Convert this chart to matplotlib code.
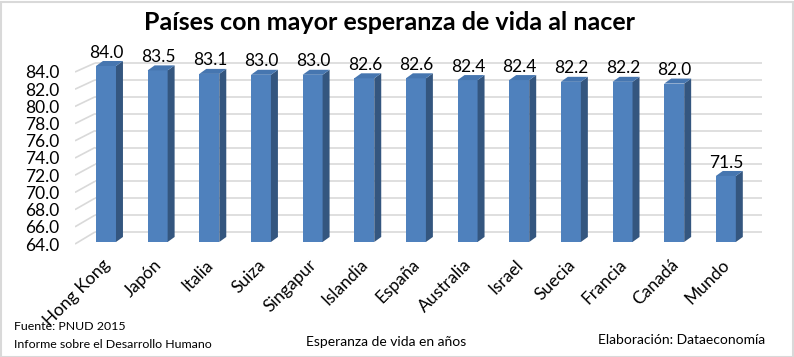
import matplotlib
matplotlib.use("Agg")
import matplotlib.pyplot as plt
from matplotlib.patches import Polygon, Rectangle
import numpy as np

plt.rcParams['font.family'] = ['Lato', 'DejaVu Sans']

categories = ["Hong Kong", "Japón", "Italia", "Suiza", "Singapur", "Islandia",
              "España", "Australia", "Israel", "Suecia", "Francia", "Canadá", "Mundo"]
values = [84.0, 83.5, 83.1, 83.0, 83.0, 82.6, 82.6, 82.4, 82.4, 82.2, 82.2, 82.0, 71.5]
tick_values = [64.0, 66.0, 68.0, 70.0, 72.0, 74.0, 76.0, 78.0, 80.0, 82.0, 84.0]

title = "Países con mayor esperanza de vida al nacer"
xlabel = "Esperanza de vida en años"
source1 = "Fuente: PNUD 2015"
source2 = "Informe sobre el Desarrollo Humano"
credit = "Elaboración: Dataeconomía"

FRONT = "#4F81BD"
SIDE = "#34567F"
TOP = "#4676B0"
GRID = "#D9D9D9"

W, H = 794, 357
fig = plt.figure(figsize=(W / 100, H / 100), dpi=100)
ax = fig.add_axes([75 / W, 1 - 245.5 / H, (762 - 75) / W, (245.5 - 44) / H])
ymin, ymax = 63.6, 86.5
ax.set_xlim(-0.6, 12.70)
ax.set_ylim(ymin, ymax)
for s in ax.spines.values():
    s.set_visible(False)

# perspective helpers (wall is behind the bars, tick labels sit at the front edge)
def front_pos(v):
    return 63.77 + (v - 64) * 0.9775

def wall_pos(v):
    return 65.136 + (v - 64) * 0.960

wall_x0 = -0.213
for v in tick_values:
    ax.plot([-0.6, wall_x0], [front_pos(v), wall_pos(v)], color=GRID, lw=1.2,
            zorder=0, solid_capstyle='butt')
    ax.plot([wall_x0, 12.70], [wall_pos(v), wall_pos(v)], color=GRID, lw=1.2,
            zorder=0, solid_capstyle='butt')

ax.set_yticks([front_pos(v) for v in tick_values])
ax.set_yticklabels([f"{v:.1f}" for v in tick_values], fontsize=12.5)
ax.tick_params(axis='y', length=0, pad=11)

x = np.arange(len(categories))
bw = 0.387
dx, dy = 0.135, 0.57
base = 64.0
ax.bar(x, [v - base for v in values], bottom=base, width=bw, color=FRONT,
       edgecolor="none", zorder=3)
for xi, v in zip(x, values):
    r = xi + bw / 2
    l = xi - bw / 2
    side = Polygon([(r, base), (r + dx, base + dy), (r + dx, v + dy), (r, v)],
                   closed=True, facecolor=SIDE, edgecolor="none", zorder=3)
    top = Polygon([(l, v), (r, v), (r + dx, v + dy), (l + dx, v + dy)],
                  closed=True, facecolor=TOP, edgecolor="none", zorder=3)
    ax.add_patch(side)
    ax.add_patch(top)
    ax.text(xi + 0.01, v + dy + 0.05, f"{v:.1f}", ha='center', va='bottom',
            fontsize=12.5, color="black", zorder=4)

label_shift = 0.08
ax.set_xticks(x - label_shift)
ax.set_xticklabels(categories, rotation=45, ha='right', va='top',
                   rotation_mode='anchor', fontsize=12.5)
ax.tick_params(axis='x', length=0, pad=8)

fig.text(389 / W, 1 - 23 / H, title, ha='center', va='center', fontsize=18,
         fontweight='bold')
fig.text(14 / W, 1 - 327 / H, source1, ha='left', va='center', fontsize=8.9)
fig.text(14 / W, 1 - 345 / H, source2, ha='left', va='center', fontsize=8.9)
fig.text(386 / W, 1 - 342 / H, xlabel, ha='center', va='center', fontsize=10)
fig.text(765 / W, 1 - 340 / H, credit, ha='right', va='center', fontsize=10)

fig.patches.append(Rectangle((0.5 / W, 0.5 / H), 1 - 2 / W, 1 - 2 / H,
                             transform=fig.transFigure, fill=False,
                             edgecolor="#D9D9D9", lw=1.5))

fig.savefig("out.png", dpi=100)
